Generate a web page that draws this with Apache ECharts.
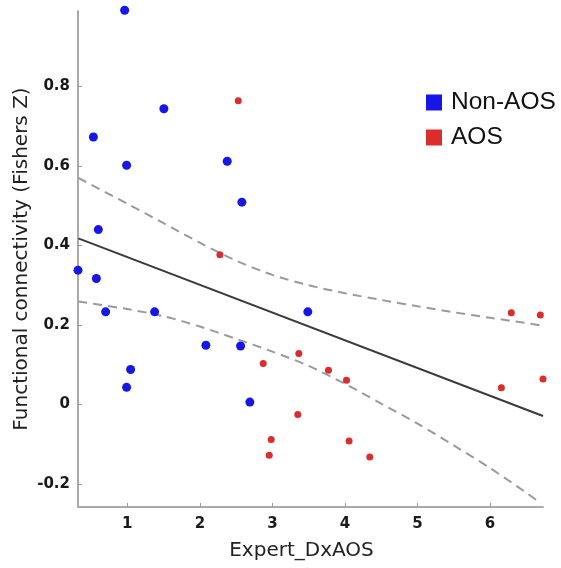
<!DOCTYPE html>
<html>
<head>
<meta charset="utf-8">
<script src="https://cdn.jsdelivr.net/npm/echarts@6/dist/echarts.min.js"></script>
<style>html,body{margin:0;padding:0;background:#fff}#c{width:561px;height:568px}</style>
</head>
<body>
<div id="c"></div>
<script>
// Non-AOS points [Expert_DxAOS, Fishers Z]
const nonAosX = [0.963, 1.504, 0.532, 0.990, 0.600, 0.320, 0.573, 0.701, 1.376, 1.045, 0.990, 2.083, 2.377, 2.579, 2.561, 3.488, 2.689];
const nonAosY = [0.992, 0.744, 0.673, 0.602, 0.440, 0.338, 0.317, 0.233, 0.233, 0.088, 0.043, 0.149, 0.612, 0.509, 0.147, 0.233, 0.006];
// AOS points
const aosX = [2.529, 2.276, 3.364, 2.873, 3.773, 4.021, 3.350, 2.983, 2.956, 4.057, 4.342, 6.293, 6.693, 6.730, 6.156];
const aosY = [0.764, 0.377, 0.128, 0.103, 0.086, 0.061, -0.025, -0.088, -0.128, -0.092, -0.132, 0.231, 0.225, 0.064, 0.042];
// Regression line (read at ends)
const fitX = [0.325, 6.73];
const fitY = [0.418, -0.029];
// Upper confidence band
const upX = [0.325, 1.0, 1.5, 2.0, 2.5, 3.0, 3.5, 4.0, 4.5, 5.0, 5.5, 6.0, 6.5, 6.73];
const upY = [0.570, 0.505, 0.456, 0.407, 0.362, 0.326, 0.300, 0.280, 0.263, 0.247, 0.232, 0.218, 0.205, 0.198];
// Lower confidence band
const loX = [0.325, 1.0, 1.5, 2.0, 2.5, 3.0, 3.5, 4.0, 4.5, 5.0, 5.5, 6.0, 6.5, 6.70];
const loY = [0.259, 0.240, 0.222, 0.196, 0.165, 0.133, 0.097, 0.052, 0.002, -0.048, -0.103, -0.160, -0.222, -0.249];

const zip = (a, b) => a.map((v, i) => [v, b[i]]);

const chart = echarts.init(document.getElementById('c'), null, {renderer: 'canvas'});
const axisCommon = {
  axisLine: {show: true, onZero: false, lineStyle: {color: '#aaaaaa', width: 2}},
  axisTick: {show: true, inside: true, length: 4, lineStyle: {color: '#999999', width: 1}},
  splitLine: {show: false},
  axisLabel: {color: '#1a1a1a', fontFamily: 'DejaVu Sans', fontWeight: 'bold', fontSize: 15, showMinLabel: false, showMaxLabel: false},
  nameLocation: 'middle',
  nameMoveOverlap: false,
  nameTextStyle: {color: '#222', fontFamily: 'DejaVu Sans', fontSize: 20}
};
chart.setOption({
  animation: false,
  backgroundColor: '#fff',
  grid: {left: 78, right: 18, top: 11, bottom: 61, containLabel: false},
  legend: {
    orient: 'vertical', left: 421, top: 85, icon: 'rect', itemWidth: 16, itemHeight: 16, itemGap: 10,
    data: ['Non-AOS', 'AOS'],
    textStyle: {fontFamily: 'Liberation Sans', fontSize: 24.5, color: '#111', padding: [0, 0, 0, 4]}
  },
  xAxis: Object.assign({}, axisCommon, {
    type: 'value', min: 0.32, max: 6.73, splitNumber: 5,
    name: 'Expert_DxAOS', nameGap: 34,
    nameTextStyle: Object.assign({}, axisCommon.nameTextStyle, {padding: [0, 18, 0, 0]}),
    axisLabel: Object.assign({}, axisCommon.axisLabel, {margin: 10})
  }),
  yAxis: Object.assign({}, axisCommon, {
    type: 'value', min: -0.258, max: 0.99, splitNumber: 6,
    name: 'Functional connectivity (Fishers Z)', nameGap: 46,
    axisLabel: Object.assign({}, axisCommon.axisLabel, {margin: 8})
  }),
  series: [
    {type: 'line', name: 'fit', data: zip(fitX, fitY), symbol: 'none', lineStyle: {color: '#3a3a3a', width: 2}, z: 2},
    {type: 'line', name: 'upper', data: zip(upX, upY), symbol: 'none', smooth: 0.3, lineStyle: {color: '#9a9a9a', width: 2, type: [9, 6]}, z: 2},
    {type: 'line', name: 'lower', data: zip(loX, loY), symbol: 'none', smooth: 0.3, lineStyle: {color: '#9a9a9a', width: 2, type: [9, 6]}, z: 2},
    {type: 'scatter', name: 'Non-AOS', data: zip(nonAosX, nonAosY), symbolSize: 9, clip: false, itemStyle: {color: '#1616e6', opacity: 1}, z: 3},
    {type: 'scatter', name: 'AOS', data: zip(aosX, aosY), symbolSize: 7, clip: false, itemStyle: {color: '#dc2c2c', opacity: 1}, z: 3}
  ]
});
</script>
</body>
</html>
